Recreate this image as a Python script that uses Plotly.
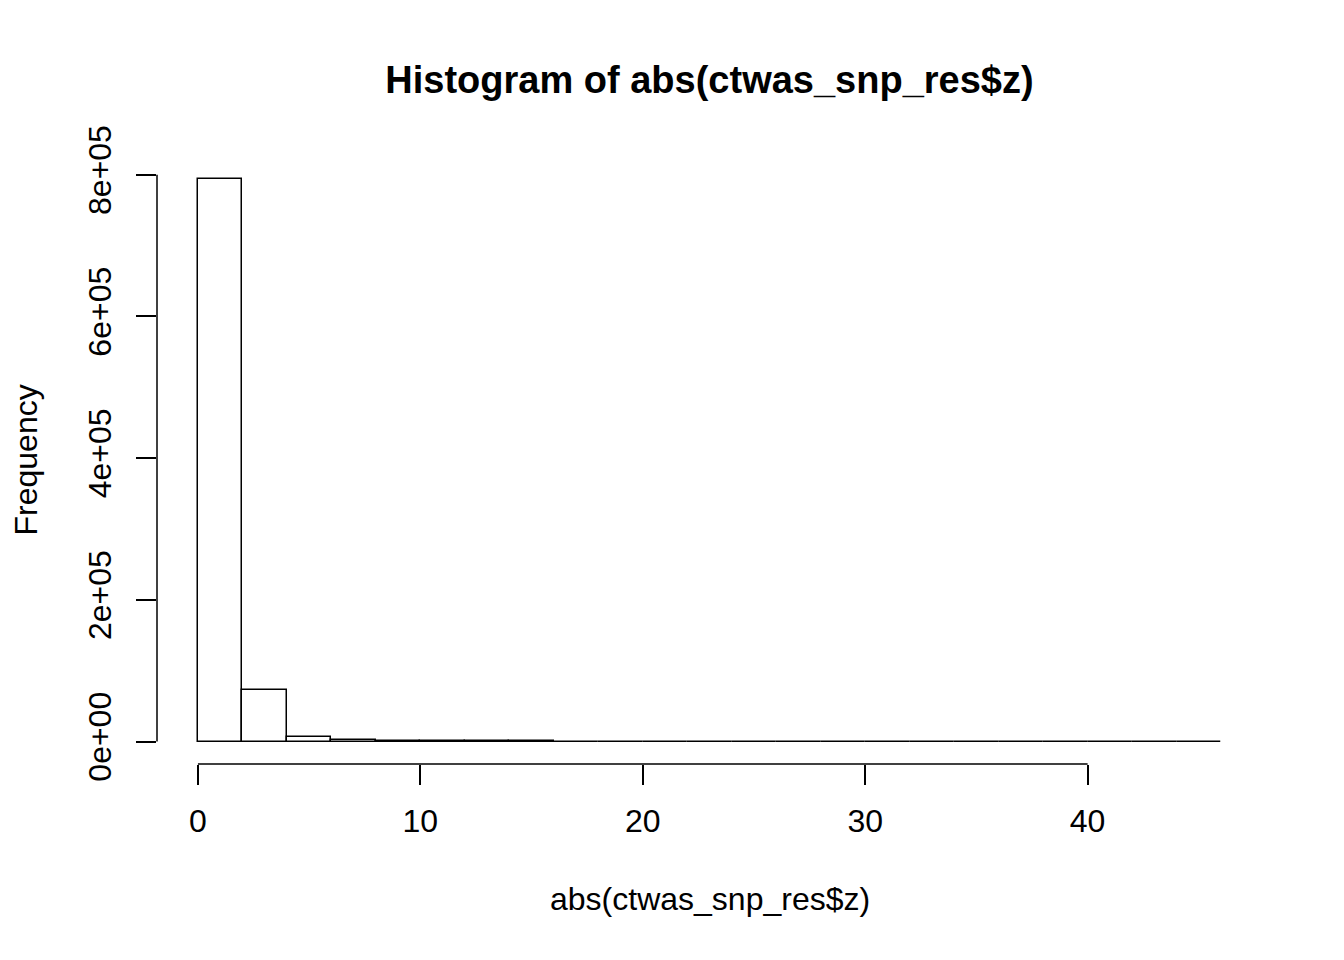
import plotly.graph_objects as go

# histogram of abs(z): bins of width 2 from 0 to 46
bin_edges = list(range(0, 48, 2))
counts = [793400, 73400, 6600, 1600, 450, 160, 70, 35, 18, 10, 6, 4, 3, 2, 1, 1, 1, 0, 1, 0, 0, 0, 1]

x_ticks = [0, 10, 20, 30, 40]
y_ticks = [0, 200000, 400000, 600000, 800000]
y_tick_text = ["0e+00", "2e+05", "4e+05", "6e+05", "8e+05"]

font = "Liberation Sans, Arial, sans-serif"

centers = [(a + b) / 2 for a, b in zip(bin_edges[:-1], bin_edges[1:])]
widths = [b - a for a, b in zip(bin_edges[:-1], bin_edges[1:])]

fig = go.Figure()
fig.add_trace(go.Bar(
    x=centers, y=counts, width=widths, base=0,
    marker=dict(color="white", line=dict(color="black", width=1.5)),
    showlegend=False,
))

lo, hi = bin_edges[0], bin_edges[-1]
pad = (hi - lo) * 0.04
ymax = max(counts)

# the page body has an 8px margin, so the figure is 8px smaller and margins shifted
fig.update_layout(
    width=1336, height=952,
    margin=dict(l=149, r=82, t=149, b=196),
    plot_bgcolor="white", paper_bgcolor="white",
    font=dict(family=font, size=32, color="black"),
    bargap=0,
    title=dict(text="<b>Histogram of abs(ctwas_snp_res$z)</b>", x=0.5, xanchor="center", xref="paper",
               y=1 - 72 / 952, yanchor="middle", yref="container",
               font=dict(family=font, size=38, color="black")),
    xaxis=dict(range=[lo - pad, hi + pad], showgrid=False, zeroline=False, showline=False,
               automargin=False,
               tickvals=x_ticks, ticks="outside", ticklen=20, tickwidth=1.5, tickcolor="black",
               ticklabelstandoff=9),
    yaxis=dict(range=[-0.04 * ymax, ymax * 1.04], showgrid=False, zeroline=False, showline=False,
               automargin=False,
               tickvals=y_ticks, ticktext=y_tick_text, tickangle=-90,
               ticks="outside", ticklen=20, tickwidth=1.5, tickcolor="black",
               ticklabelstandoff=12),
    annotations=[
        dict(text="abs(ctwas_snp_res$z)", xref="paper", yref="paper", x=0.5, y=0,
             yshift=-135, showarrow=False, yanchor="middle", font=dict(size=32)),
        dict(text="Frequency", xref="paper", yref="paper", x=0, y=0.5, xshift=-132,
             textangle=-90, showarrow=False, xanchor="center", font=dict(size=32)),
    ],
    shapes=[
        dict(type="line", xref="x", yref="paper", x0=x_ticks[0], x1=x_ticks[-1], y0=0, y1=0,
             line=dict(color="black", width=1.5)),
        dict(type="line", xref="paper", yref="y", x0=0, x1=0, y0=y_ticks[0], y1=y_ticks[-1],
             line=dict(color="black", width=1.5)),
    ],
)

fig.write_html("out.html")
